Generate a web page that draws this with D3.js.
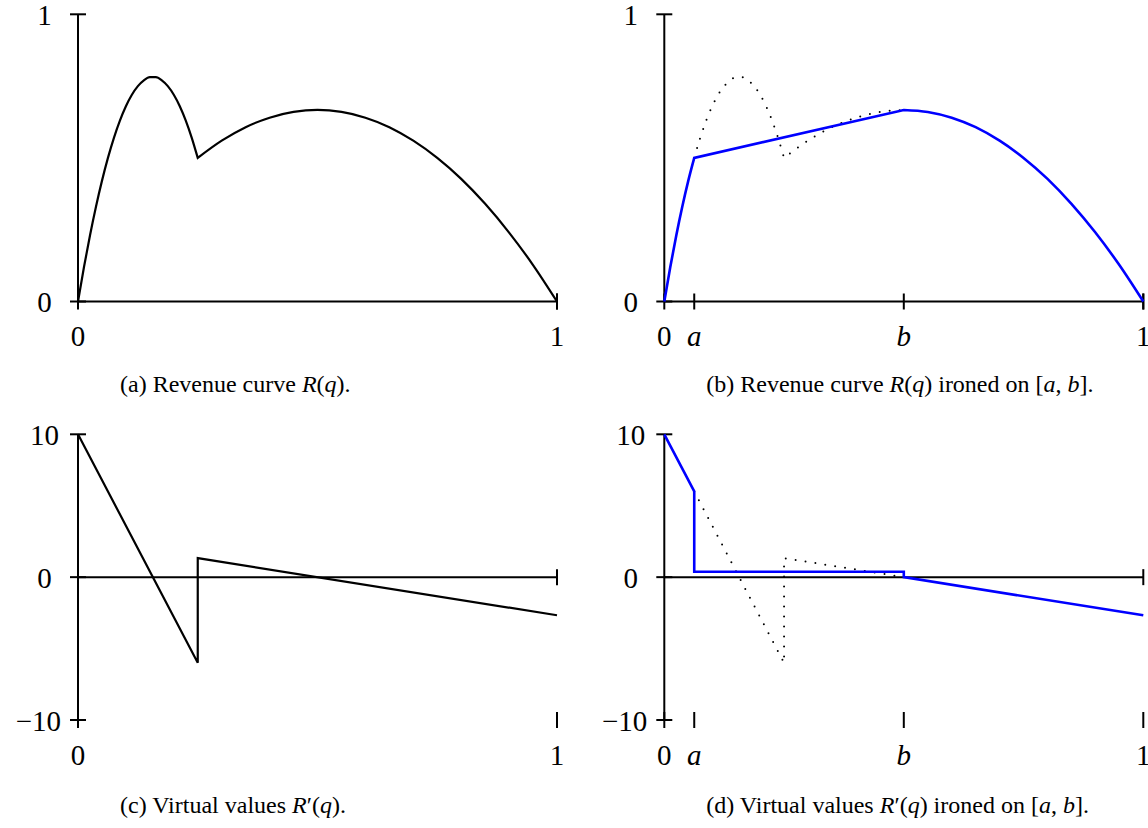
<!DOCTYPE html>
<html><head><meta charset="utf-8">
<script src="https://cdn.jsdelivr.net/npm/d3@7/dist/d3.min.js"></script>
<style>
body{margin:0;background:#fff}
text{font-family:"Liberation Serif","DejaVu Serif",serif;fill:#000}
</style>
</head><body>
<svg id="chart" width="1148" height="828"></svg>
<script>
// ---------- data ----------
// Revenue curve R(q), left piece on [0, 0.25]
const revLowQ = [0, 0.0125, 0.025, 0.0375, 0.05, 0.0625, 0.075, 0.0875, 0.1, 0.1125, 0.125, 0.1375, 0.15, 0.1625, 0.175, 0.1875, 0.2, 0.2125, 0.225, 0.2375, 0.25];
const revLowR = [0, 0.120, 0.230, 0.330, 0.420, 0.500, 0.570, 0.630, 0.680, 0.720, 0.750, 0.770, 0.781, 0.781, 0.770, 0.750, 0.720, 0.680, 0.630, 0.570, 0.500];
// Revenue curve R(q), right piece on [0.25, 1]
const revHighQ = [0.25, 0.3, 0.35, 0.4, 0.45, 0.5, 0.55, 0.6, 0.65, 0.7, 0.75, 0.8, 0.85, 0.9, 0.95, 1];
const revHighR = [0.500, 0.560, 0.607, 0.640, 0.660, 0.667, 0.660, 0.640, 0.607, 0.560, 0.500, 0.427, 0.340, 0.240, 0.127, 0];
// ironing interval
const ironA = 0.0625;
const ironB = 0.5;
// virtual values R'(q)
const vvQ = [0, 0.25, 0.25, 1];
const vvV = [10, -6, 1.333, -2.667];
// ironed virtual values
const ironedVvQ = [0, 0.0625, 0.0625, 0.5, 0.5, 1];
const ironedVvV = [10, 6, 0.38, 0.38, 0, -2.667];
// original virtual values on [a, b] (dotted)
const origVvQ = [0.0625, 0.25, 0.25, 0.5];
const origVvV = [6, -6, 1.333, 0];
// ticks
const revYTicks = [0, 1];
const vvYTicks = [-10, 0, 10];
const plainXTicks = [0, 1];
const plainXLabels = ["0", "1"];
const ironXTicks = [0, ironA, ironB, 1];
const ironXLabels = ["0", "a", "b", "1"];
const captionA = [["(a) Revenue curve ", false], ["R", true], ["(", false], ["q", true], [").", false]];
const captionB = [["(b) Revenue curve ", false], ["R", true], ["(", false], ["q", true], [") ironed on [", false], ["a", true], [", ", false], ["b", true], ["].", false]];
const captionC = [["(c) Virtual values ", false], ["R", true], ["\u2032(", false], ["q", true], [").", false]];
const captionD = [["(d) Virtual values ", false], ["R", true], ["\u2032(", false], ["q", true], [") ironed on [", false], ["a", true], [", ", false], ["b", true], ["].", false]];

// ---------- drawing ----------
const svg = d3.select("#chart");
const BLUE = "#0000ff";
const TICK = 8;

function zip(qs, vs){ return qs.map((q,i)=>[q, vs[i]]); }

function panel(opt){
  const g = svg.append("g");
  const x = d3.scaleLinear().domain([0,1]).range([opt.x0, opt.x0 + 479]);
  const y = d3.scaleLinear().domain(opt.yDomain).range(opt.yRange);
  const yMin = opt.yDomain[0];
  // axes
  g.append("line").attr("x1", x(0)).attr("x2", x(1)).attr("y1", y(0)).attr("y2", y(0))
    .attr("stroke","#000").attr("stroke-width",2);
  g.append("line").attr("x1", x(1)).attr("x2", x(1)).attr("y1", y(0)-TICK).attr("y2", y(0)+TICK)
    .attr("stroke","#000").attr("stroke-width",2);
  g.append("line").attr("x1", x(0)).attr("x2", x(0)).attr("y1", y(yMin)).attr("y2", y(opt.yDomain[1]))
    .attr("stroke","#000").attr("stroke-width",2);
  // y ticks
  opt.yTicks.forEach(t=>{
    g.append("line").attr("x1", x(0)-TICK).attr("x2", x(0)+TICK).attr("y1", y(t)).attr("y2", y(t))
      .attr("stroke","#000").attr("stroke-width",2);
    const lbl = t < 0 ? "\u2212" + Math.abs(t) : String(t);
    g.append("text").attr("x", t < 0 ? x(0)-17 : x(0)-33.5).attr("y", y(t)+10.5)
      .attr("text-anchor", t < 0 ? "end" : "middle").attr("font-size", 29).text(lbl);
  });
  // x ticks (at bottom of the y range)
  opt.xTicks.forEach((t,i)=>{
    g.append("line").attr("x1", x(t)).attr("x2", x(t)).attr("y1", y(yMin)-TICK).attr("y2", y(yMin)+TICK)
      .attr("stroke","#000").attr("stroke-width",2);
    const lbl = opt.xLabels[i];
    const it = /[a-z]/.test(lbl);
    g.append("text").attr("x", x(t)).attr("y", y(yMin)+44.5)
      .attr("text-anchor","middle").attr("font-size", 29)
      .attr("font-style", it ? "italic" : "normal").text(lbl);
  });
  // caption
  const cap = g.append("text").attr("x", opt.x0 + 42).attr("y", opt.capY).attr("font-size", 24);
  opt.caption.forEach(([s, it])=>{
    cap.append("tspan").attr("font-style", it ? "italic" : "normal").text(s);
  });
  return {g, x, y};
}

const P = 586.3;
const revY = [301.5, 14.3];
const vvYR = [720, 434.3];

// (a)
const pa = panel({x0:78, yDomain:[0,1], yRange:revY, yTicks:revYTicks, xTicks:plainXTicks, xLabels:plainXLabels, caption:captionA, capY:392});
{
  const line = d3.line().x(d=>pa.x(d[0])).y(d=>pa.y(d[1])).curve(d3.curveMonotoneX);
  const p1 = line(zip(revLowQ, revLowR));
  const p2 = line(zip(revHighQ, revHighR)).replace(/^M/, "L");
  pa.g.append("path").attr("d", p1 + p2).attr("fill","none").attr("stroke","#000")
    .attr("stroke-width",2.2).attr("stroke-linejoin","miter");
}

// (b)
const pb = panel({x0:78+P, yDomain:[0,1], yRange:revY, yTicks:revYTicks, xTicks:ironXTicks, xLabels:ironXLabels, caption:captionB, capY:392});
{
  const line = d3.line().x(d=>pb.x(d[0])).y(d=>pb.y(d[1])).curve(d3.curveMonotoneX);
  const low = zip(revLowQ, revLowR);
  const high = zip(revHighQ, revHighR);
  // dotted original on [a, b]
  const dotLow = low.filter(d=>d[0] >= ironA);
  const dotHigh = high.filter(d=>d[0] <= ironB);
  const dp = line(dotLow) + line(dotHigh).replace(/^M/, "L");
  pb.g.append("path").attr("d", dp).attr("fill","none").attr("stroke","#000")
    .attr("stroke-width",2).attr("stroke-linecap","round").attr("stroke-dasharray","0 10");
  // ironed (blue)
  const leftPart = low.filter(d=>d[0] <= ironA);
  const rightPart = high.filter(d=>d[0] >= ironB);
  const lin = d3.line().x(d=>pb.x(d[0])).y(d=>pb.y(d[1]));
  const bp = line(leftPart) + lin([leftPart[leftPart.length-1], rightPart[0]]).replace(/^M/, "L") + line(rightPart).replace(/^M/, "L");
  pb.g.append("path").attr("d", bp).attr("fill","none").attr("stroke",BLUE)
    .attr("stroke-width",2.6).attr("stroke-linejoin","miter");
}

// (c)
const pc = panel({x0:78, yDomain:[-10,10], yRange:vvYR, yTicks:vvYTicks, xTicks:plainXTicks, xLabels:plainXLabels, caption:captionC, capY:813});
{
  const lin = d3.line().x(d=>pc.x(d[0])).y(d=>pc.y(d[1]));
  pc.g.append("path").attr("d", lin(zip(vvQ, vvV))).attr("fill","none").attr("stroke","#000")
    .attr("stroke-width",2.2).attr("stroke-linejoin","miter");
}

// (d)
const pd = panel({x0:78+P, yDomain:[-10,10], yRange:vvYR, yTicks:vvYTicks, xTicks:ironXTicks, xLabels:ironXLabels, caption:captionD, capY:813});
{
  const lin = d3.line().x(d=>pd.x(d[0])).y(d=>pd.y(d[1]));
  pd.g.append("path").attr("d", lin(zip(origVvQ, origVvV))).attr("fill","none").attr("stroke","#000")
    .attr("stroke-width",2).attr("stroke-linecap","round").attr("stroke-dasharray","0 10");
  pd.g.append("path").attr("d", lin(zip(ironedVvQ, ironedVvV))).attr("fill","none").attr("stroke",BLUE)
    .attr("stroke-width",2.6).attr("stroke-linejoin","miter");
}
</script>
</body></html>
